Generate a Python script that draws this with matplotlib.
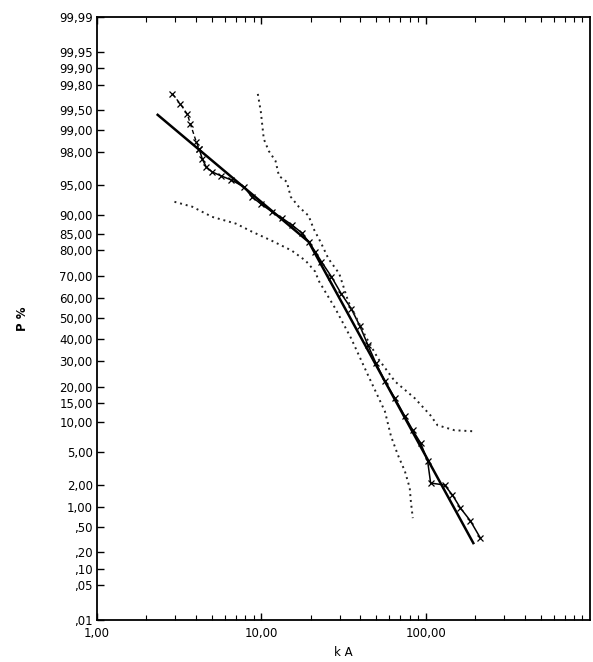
import numpy as np
import matplotlib
matplotlib.use("Agg")
import matplotlib.pyplot as plt
from statistics import NormalDist

# fitted line (two straight pieces), kA and P %
fit_ka = [2.34, 19.4, 195.0]
fit_p = [99.40, 82.8, 0.28]

# measured values (x markers)
meas_ka = [2.88, 3.22, 3.55, 3.70, 4.02, 4.19, 4.37, 4.62, 5.02, 5.69, 6.54, 7.84,
           8.76, 9.93, 11.6, 13.3, 15.3, 17.6, 19.4, 21.3, 23.2, 26.7, 30.6, 35.2,
           39.9, 44.6, 49.9, 56.5, 65.0, 74.7, 83.5, 93.3, 102.8, 107.2, 130.2,
           145.6, 162.7, 187.0, 215.0]
meas_p = [99.72, 99.59, 99.41, 99.18, 98.53, 98.17, 97.55, 96.92, 96.47, 96.07,
          95.64, 94.78, 93.33, 92.14, 90.59, 89.29, 87.62, 85.49, 82.82, 79.5,
          75.84, 69.7, 62.08, 54.9, 46.1, 37.0, 29.0, 21.9, 16.25, 11.4, 8.4, 6.2,
          3.93, 2.12, 2.0, 1.47, 0.97, 0.63, 0.34]

# upper confidence limit (dotted)
upper_ka = [9.52, 9.93, 10.35, 11.1, 12.2, 12.8, 14.3, 15.1, 16.9, 19.4, 20.8, 22.9,
            25.6, 29.8, 33.8, 42.8, 51.3, 65.0, 85.9, 107.0, 118.0, 150.0, 198.0]
upper_p = [99.72, 99.46, 98.66, 98.06, 97.40, 96.07, 95.40, 93.33, 91.59, 89.74,
           86.58, 82.8, 76.97, 71.0, 58.3, 41.7, 31.1, 21.9, 16.25, 11.6, 9.4, 8.4, 8.2]

# lower confidence limit (dotted)
lower_ka = [2.96, 3.80, 5.02, 7.01, 8.76, 11.6, 15.3, 18.6, 21.3, 22.3, 28.2, 35.2,
            44.6, 56.5, 61.5, 67.8, 74.7, 80.0, 81.2, 83.5]
lower_p = [92.5, 91.6, 89.5, 87.9, 85.8, 83.1, 79.9, 76.2, 71.8, 68.0, 54.9, 40.3,
           24.2, 12.6, 7.34, 4.6, 2.99, 1.83, 1.22, 0.69]

yticks = [0.01, 0.05, 0.10, 0.20, 0.50, 1, 2, 5, 10, 15, 20, 30, 40, 50, 60, 70,
          80, 85, 90, 95, 98, 99, 99.5, 99.8, 99.9, 99.95, 99.99]
ylabels = [",01", ",05", ",10", ",20", ",50", "1,00", "2,00", "5,00", "10,00",
           "15,00", "20,00", "30,00", "40,00", "50,00", "60,00", "70,00", "80,00",
           "85,00", "90,00", "95,00", "98,00", "99,00", "99,50", "99,80", "99,90",
           "99,95", "99,99"]
xticks = [1, 10, 100]
xlabels = ["1,00", "10,00", "100,00"]

nd = NormalDist()
_ppf = np.vectorize(nd.inv_cdf, otypes=[float])
_cdf = np.vectorize(nd.cdf, otypes=[float])


def fwd(p):
    p = np.clip(np.asarray(p, dtype=float) / 100.0, 1e-12, 1 - 1e-12)
    return _ppf(p)


def inv(z):
    return _cdf(np.asarray(z, dtype=float)) * 100.0


plt.rcParams['font.family'] = ['DejaVu Sans']
fig = plt.figure(figsize=(5.93, 6.62), dpi=100)
ax = fig.add_axes([97 / 593, 1 - 620 / 662, (590 - 97) / 593, 603 / 662])
ax.set_xscale('log')
ax.set_yscale('function', functions=(fwd, inv))

ax.plot(fit_ka, fit_p, color='black', lw=1.8)
ax.plot(meas_ka[:6], meas_p[:6], color='black', lw=1.0, ls=(0, (3, 2)),
        marker='x', ms=4, mew=0.9)
ax.plot(meas_ka[5:], meas_p[5:], color='black', lw=1.1,
        marker='x', ms=4, mew=0.9)
ax.plot(upper_ka, upper_p, color='#222222', lw=1.4, ls=(0, (1, 2)))
ax.plot(lower_ka, lower_p, color='#222222', lw=1.4, ls=(0, (1, 2)))

ax.set_xlim(1, 1000)
ax.set_ylim(0.01, 99.99)
ax.set_yticks(yticks)
ax.set_yticklabels(ylabels)
ax.set_xticks(xticks)
ax.set_xticklabels(xlabels)
ax.yaxis.set_minor_locator(matplotlib.ticker.NullLocator())
ax.tick_params(axis='y', which='both', direction='in', length=5, width=1,
               labelsize=8.5, pad=3, right=False)
ax.tick_params(axis='x', which='both', direction='in', top=True, labelsize=8.5, pad=5)
ax.tick_params(axis='x', which='major', length=5, width=1)
ax.tick_params(axis='x', which='minor', length=3.5, width=0.8)
for s in ax.spines.values():
    s.set_linewidth(1.3)

ax.set_xlabel("k A", fontsize=8.5, labelpad=4)
ax.set_ylabel("P %", fontsize=8.5, fontweight='bold', labelpad=22)

fig.savefig("out.png", dpi=100)
